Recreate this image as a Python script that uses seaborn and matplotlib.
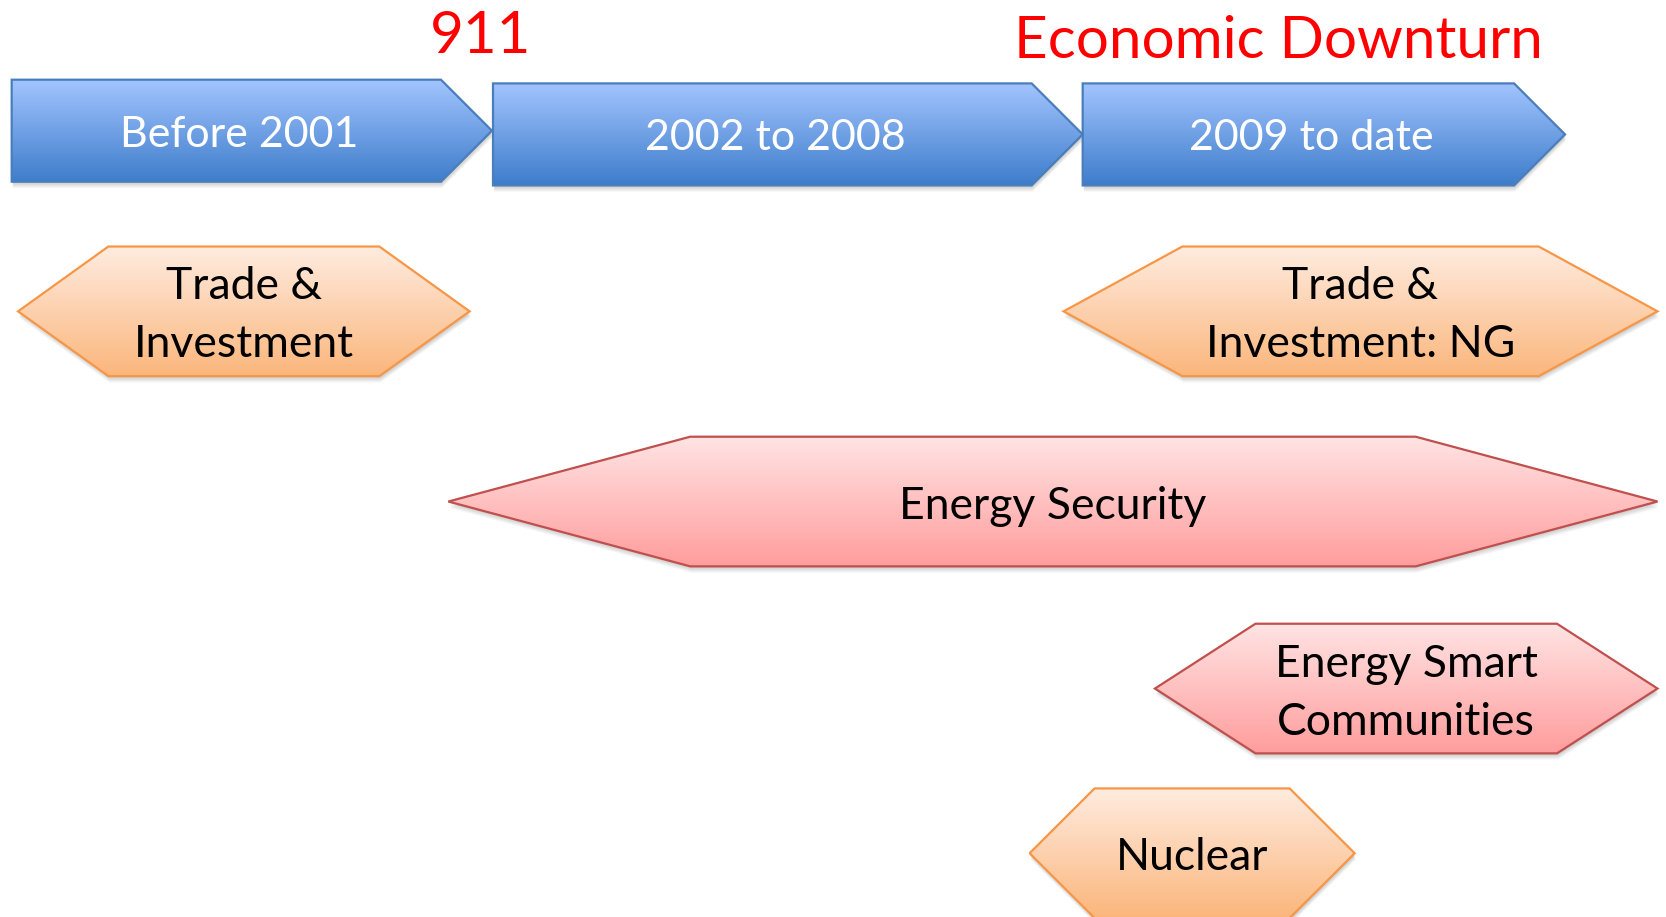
import numpy as np
import matplotlib
matplotlib.use("Agg")
import matplotlib.pyplot as plt
from matplotlib.patches import Polygon
import seaborn as sns

# periods along the top arrow
eras = ["Before 2001", "2002 to 2008", "2009 to date"]
era_start = [11, 464, 1019]
era_end = [463, 1019, 1473]
era_lane = [123, 126.5, 126.5]

# events written above the periods
events = ["911", "Economic Downturn"]
event_x = [452, 1203]
event_base = [50, 55]

# policy themes and the stretch of the timeline each one covers
topics = ["Trade &\nInvestment", "Trade &\nInvestment: NG", "Energy Security",
          "Energy Smart\nCommunities", "Nuclear"]
topic_start = [17, 1001, 422, 1087, 969]
topic_end = [442, 1560, 1560, 1560, 1275]
topic_lane = [293, 293, 472, 648, 803]
topic_kind = ["orange", "orange", "red", "red", "orange"]

sns.set_theme(style="white")
plt.rcParams["font.family"] = ["Lato", "DejaVu Sans"]

BAR_H = 96
HEX_H = 122
LINE_STEP = 54.5
shades = {
    "blue": ("#a3c5ff", "#3e7dcb", "#4a7ebb"),
    "orange": ("#ffece0", "#fbb67c", "#f79646"),
    "red": ("#ffe4e4", "#ff9d9d", "#c0504d"),
}


def fill_shape(ax, pts, kind):
    top, bottom, edge = shades[kind]
    cmap = sns.blend_palette([top, bottom], n_colors=256, as_cmap=True)
    # soft drop shadow
    for off in range(1, 7):
        ax.add_patch(Polygon(pts + np.array([1.0, off]), closed=True,
                             fc="black", ec="none", alpha=0.035, zorder=1))
    shape = Polygon(pts, closed=True, fc="none", ec=edge, lw=1.6, zorder=3)
    ax.add_patch(shape)
    grad = np.linspace(0, 1, 256).reshape(-1, 1)
    im = ax.imshow(grad, cmap=cmap, aspect="auto", origin="upper",
                   interpolation="bicubic", zorder=2,
                   extent=(pts[:, 0].min(), pts[:, 0].max(),
                           pts[:, 1].max(), pts[:, 1].min()))
    im.set_clip_path(shape)


def put_label(ax, x, lane, text, color, size):
    lines = text.split("\n")
    first = lane + 16 - LINE_STEP * (len(lines) - 1) / 2
    for i, line in enumerate(lines):
        ax.text(x, first + i * LINE_STEP, line, ha="center", va="baseline",
                color=color, fontsize=size, zorder=4)


fig = plt.figure(figsize=(16.66, 9.17), dpi=100)
ax = fig.add_axes([0, 0, 1, 1])

# chevrons for the periods
for name, x0, x1, yc in zip(eras, era_start, era_end, era_lane):
    tip = BAR_H / 2
    pts = np.array([[x0, yc - BAR_H / 2], [x1 - tip, yc - BAR_H / 2], [x1, yc],
                    [x1 - tip, yc + BAR_H / 2], [x0, yc + BAR_H / 2]])
    fill_shape(ax, pts, "blue")
    put_label(ax, (x0 + x1 - tip / 2) / 2, yc - 1, name, "white", 31)

for name, x, base in zip(events, event_x, event_base):
    ax.text(x, base, name, ha="center", va="baseline", color="#ff0000",
            fontsize=42, zorder=4)

# hexagons for the themes
for name, x0, x1, yc, kind in zip(topics, topic_start, topic_end, topic_lane, topic_kind):
    cut = 0.2 * (x1 - x0)
    pts = np.array([[x0, yc], [x0 + cut, yc - HEX_H / 2], [x1 - cut, yc - HEX_H / 2],
                    [x1, yc], [x1 - cut, yc + HEX_H / 2], [x0 + cut, yc + HEX_H / 2]])
    fill_shape(ax, pts, kind)
    put_label(ax, (x0 + x1) / 2, yc, name, "black", 32)

ax.set_xlim(0, 1568)
ax.set_ylim(863, 0)
ax.axis("off")
fig.savefig("out.png", dpi=100)
